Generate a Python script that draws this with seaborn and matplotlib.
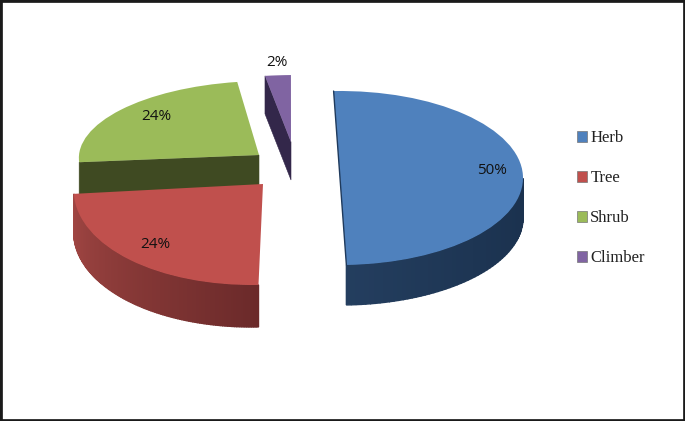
import matplotlib
matplotlib.use("Agg")
import matplotlib.pyplot as plt
from matplotlib.transforms import Affine2D
from matplotlib.colors import to_rgb
import numpy as np
import seaborn as sns

categories = ["Herb", "Tree", "Shrub", "Climber"]
values = [50, 24, 24, 2]
value_labels = ["50%", "24%", "24%", "2%"]

W, H = 685, 421
sns.set_theme(style="white")
palette = sns.color_palette(["#4F81BD", "#C0504D", "#9BBB59", "#8064A2"])

# Projection of each exploded slice (image pixels): centre x/y, radii, shear, depth
proj = {
    "Herb":    dict(cx=340, cy=178, rx=183, ry=87,  sh=0.0,   depth=40),
    "Tree":    dict(cx=263, cy=184, rx=189, ry=101, sh=0.11,  depth=42),
    "Shrub":   dict(cx=259, cy=155, rx=180, ry=74,  sh=0.096, depth=33),
    "Climber": dict(cx=291, cy=142, rx=207, ry=67,  sh=0.107, depth=38),
}
side_colors = {
    "Herb":    ("#1B324F", "#2D4B70"),
    "Tree":    ("#6B2A2A", "#A34744"),
}
cut_colors = {"Herb": "#1F3A5C", "Tree": "#6B2A2A", "Shrub": "#3F4A22", "Climber": "#33274A"}
order = {"Shrub": 1, "Climber": 1, "Tree": 2, "Herb": 3}
label_pos = {"Herb": (492, 170), "Tree": (155, 244), "Shrub": (156, 116), "Climber": (277, 63)}

fig = plt.figure(figsize=(W / 100, H / 100), dpi=100)
ax = fig.add_axes([0, 0, 1, 1])
wedges, _ = ax.pie(values, colors=palette, startangle=92, counterclock=False, radius=1)
ax.set_aspect("auto")
ax.set_xlim(0, W)
ax.set_ylim(0, H)


def matrix(p):
    return Affine2D(np.array([[p["rx"], p["sh"] * p["ry"], p["cx"]],
                              [0, p["ry"], H - p["cy"]],
                              [0, 0, 1]]))


def at(p, deg):
    t = np.radians(deg)
    return matrix(p).transform((np.cos(t), np.sin(t)))


for name, w in zip(categories, wedges):
    p = proj[name]
    z = order[name] * 10
    w.set_transform(matrix(p) + ax.transData)
    w.set_zorder(z + 3)
    w.set_linewidth(0)
    # curved outer side, shaded along the arc
    if name in side_colors:
        dark, light = map(np.array, map(to_rgb, side_colors[name]))
        th = np.linspace(w.theta1, w.theta2, 120)
        th = th[np.sin(np.radians(th)) < 0.0]
        for i in range(len(th) - 1):
            a, b = at(p, th[i]), at(p, th[i + 1])
            if name == "Tree":
                f = (th[i] - th[0]) / (th[-1] - th[0])
            else:
                f = (np.cos(np.radians(th[i])) + 1) / 2
            col = light + (dark - light) * f
            ax.fill([a[0], b[0], b[0], a[0]],
                    [a[1], b[1], b[1] - p["depth"], a[1] - p["depth"]],
                    color=col, lw=1.0, zorder=z + 1)
    # flat cut faces
    apex = matrix(p).transform((0, 0))
    if name in ("Shrub", "Climber"):
        edge = at(p, max(w.theta1, w.theta2))
        ax.fill([edge[0], apex[0], apex[0], edge[0]],
                [edge[1], apex[1], apex[1] - p["depth"], edge[1] - p["depth"]],
                color=cut_colors[name], lw=0.4, zorder=z + 2)
    if name == "Herb":
        t = at(p, 92)
        b = at(p, -88)
        ax.plot([t[0], apex[0], b[0]], [t[1], apex[1], b[1]],
                color=cut_colors[name], lw=1.0, zorder=z + 4)
    ax.text(label_pos[name][0], H - label_pos[name][1], value_labels[categories.index(name)],
            ha="center", va="center", fontsize=11, family="Open Sans",
            color="#111111", zorder=50)

ax.legend(wedges, categories, loc="center left", bbox_to_anchor=(577, H - 198.5),
          bbox_transform=ax.transData, frameon=False, handlelength=0.6, handleheight=0.6,
          handletextpad=0.2, labelspacing=1.44, borderpad=0, borderaxespad=0,
          prop=dict(family="Liberation Serif", size=12), labelcolor="#222222")
for h in ax.get_legend().get_patches():
    h.set_edgecolor("#777777")
    h.set_linewidth(0.5)

ax.set_frame_on(True)
for s in ax.spines.values():
    s.set_visible(True)
    s.set_color("#1a1a1a")
    s.set_linewidth(3.4)
ax.set_xticks([])
ax.set_yticks([])
fig.savefig("out.png", dpi=100, facecolor="white")
